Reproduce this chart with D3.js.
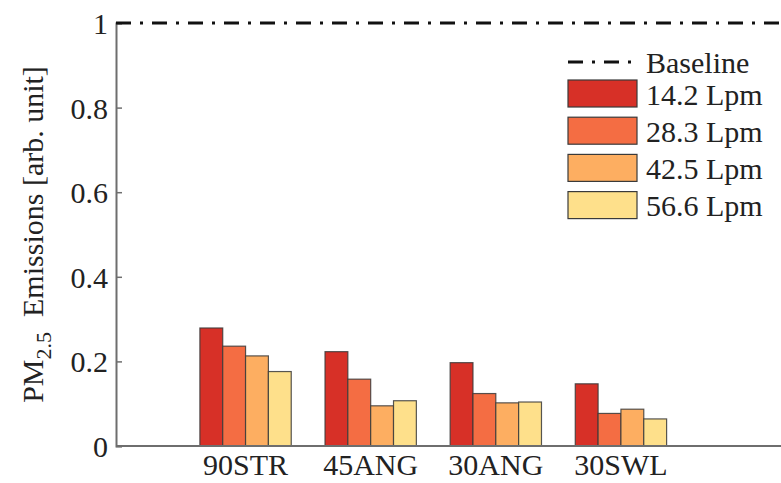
<!DOCTYPE html>
<html>
<head>
<meta charset="utf-8">
<script src="https://cdn.jsdelivr.net/npm/d3@7"></script>
<style>
	body { margin: 0; background: #fff; }
	text { font-family: "Liberation Serif", "Times New Roman", serif; fill: #222; }
</style>
</head>
<body>
<div id="chart"></div>
<script>
const categories = ["90STR", "45ANG", "30ANG", "30SWL"];
const seriesNames = ["14.2 Lpm", "28.3 Lpm", "42.5 Lpm", "56.6 Lpm"];
const colors = ["#d73027", "#f46d43", "#fdae61", "#fee08b"];
const values = [
	[0.279, 0.236, 0.213, 0.176],
	[0.223, 0.158, 0.095, 0.107],
	[0.197, 0.124, 0.102, 0.104],
	[0.147, 0.077, 0.087, 0.064],
];
const baseline = 1;
const yTicks = [0, 0.2, 0.4, 0.6, 0.8, 1];

const w = 781;
const h = 483;
const padLeft = 116;
const padTop = 23;
const axisBottom = 446;
const fontSize = "30px";

const svg = d3
	.select("#chart")
	.append("svg")
	.attr("width", w)
	.attr("height", h);

const yScale = d3.scaleLinear().domain([0, 1]).range([axisBottom, padTop]);

const x0 = d3.scaleBand().domain(categories).range([183, 683.5]);

const groupW = x0.bandwidth() * 0.73;
const x1 = d3
	.scaleBand()
	.domain(seriesNames)
	.range([(x0.bandwidth() - groupW) / 2, (x0.bandwidth() + groupW) / 2]);

// bars
const groups = svg
	.selectAll("g.grp")
	.data(values)
	.enter()
	.append("g")
	.attr("class", "grp")
	.attr("transform", (d, i) => "translate(" + x0(categories[i]) + ",0)");

groups
	.selectAll("rect")
	.data((d) => d)
	.enter()
	.append("rect")
	.attr("x", (d, j) => x1(seriesNames[j]))
	.attr("y", (d) => yScale(d))
	.attr("width", x1.bandwidth())
	.attr("height", (d) => yScale(0) - yScale(d))
	.attr("fill", (d, j) => colors[j])
	.attr("stroke", "#3a3a3a")
	.attr("stroke-width", 1.2)
	.attr("stroke-opacity", 0.85);

// x axis line
svg
	.append("line")
	.attr("x1", padLeft)
	.attr("x2", w)
	.attr("y1", yScale(0))
	.attr("y2", yScale(0))
	.attr("stroke", "#6e6e6e")
	.attr("stroke-width", 2);

// category labels
svg
	.selectAll("text.cat")
	.data(categories)
	.enter()
	.append("text")
	.attr("class", "cat")
	.attr("x", (d) => x0(d) + x0.bandwidth() / 2)
	.attr("y", axisBottom + 29)
	.attr("text-anchor", "middle")
	.style("font-size", fontSize)
	.text((d) => d);

// y axis
const yAxis = d3
	.axisRight(yScale)
	.tickValues(yTicks)
	.tickSize(6)
	.tickFormat((d) => (d === 0 || d === 1 ? d3.format("d")(d) : d3.format(".1f")(d)));

const yg = svg
	.append("g")
	.attr("transform", "translate(" + padLeft + ",0)")
	.call(yAxis);
yg.select(".domain").attr("stroke", "#6e6e6e").attr("stroke-width", 2);
yg.selectAll(".tick line").attr("stroke", "#6e6e6e").attr("stroke-width", 1.5);
yg.selectAll(".tick text")
	.attr("x", -8)
	.attr("text-anchor", "end")
	.attr("dy", "0.35em")
	.style("font-size", fontSize)
	.style("font-family", "'Liberation Serif', serif")
	.attr("fill", "#222");

// baseline
svg
	.append("line")
	.attr("x1", padLeft)
	.attr("x2", w)
	.attr("y1", yScale(baseline))
	.attr("y2", yScale(baseline))
	.attr("stroke", "#111")
	.attr("stroke-width", 3)
	.attr("stroke-dasharray", "15,9,3,9");

// y label
const yLabel = svg
	.append("text")
	.attr("transform", "translate(43," + (padTop + axisBottom) / 2 + ") rotate(-90)")
	.attr("text-anchor", "middle")
	.style("font-size", fontSize);
yLabel.append("tspan").text("PM");
yLabel.append("tspan").attr("dy", 8).style("font-size", "22px").text("2.5");
yLabel.append("tspan").attr("dy", -8).text("\u00a0 Emissions [arb. unit]");

// legend
const legX = 568;
const legend = svg.append("g");
legend
	.append("line")
	.attr("x1", legX)
	.attr("x2", legX + 69)
	.attr("y1", 62)
	.attr("y2", 62)
	.attr("stroke", "#111")
	.attr("stroke-width", 3)
	.attr("stroke-dasharray", "15,9,3,9");
legend
	.append("text")
	.attr("x", legX + 78)
	.attr("y", 62)
	.attr("dy", "0.35em")
	.style("font-size", fontSize)
	.text("Baseline");

const rows = legend
	.selectAll("g.row")
	.data(seriesNames)
	.enter()
	.append("g")
	.attr("class", "row")
	.attr("transform", (d, i) => "translate(" + legX + "," + (80 + i * 37.2) + ")");
rows
	.append("rect")
	.attr("width", 69)
	.attr("height", 27)
	.attr("fill", (d, i) => colors[i])
	.attr("stroke", "#3a3a3a")
	.attr("stroke-width", 1.2);
rows
	.append("text")
	.attr("x", 78)
	.attr("y", 14)
	.attr("dy", "0.35em")
	.style("font-size", fontSize)
	.text((d) => d);
</script>
</body>
</html>
